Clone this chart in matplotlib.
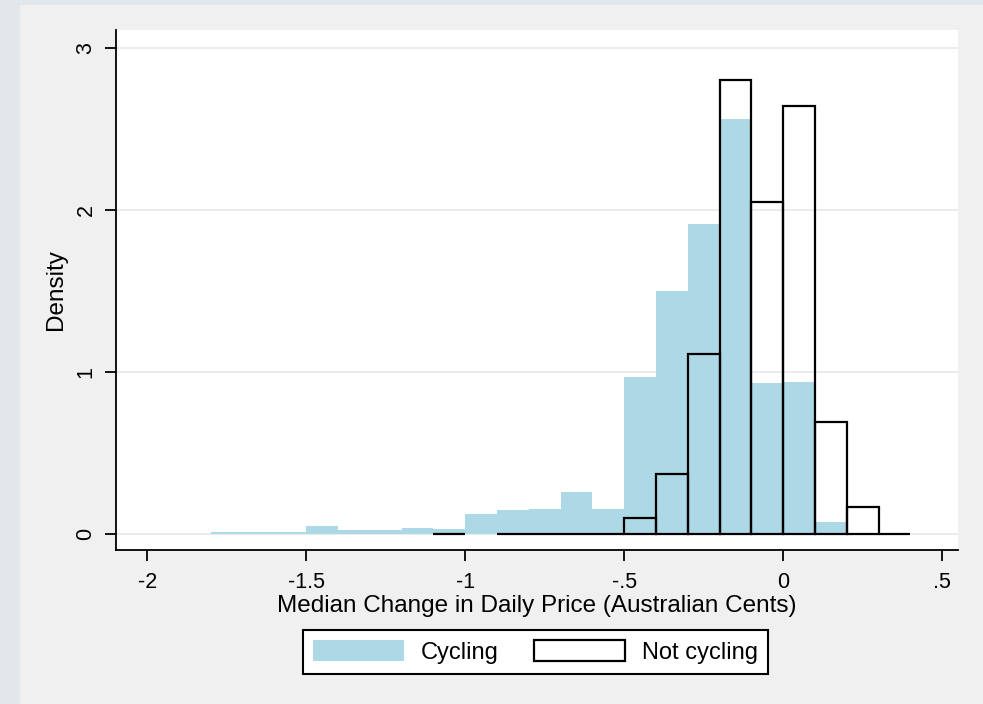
import numpy as np
import matplotlib.pyplot as plt
from matplotlib.patches import Rectangle

# histogram bins (left edge, width 0.1) and densities
cyc_left = [-1.8, -1.7, -1.6, -1.5, -1.4, -1.3, -1.2, -1.1, -1.0, -0.9,
            -0.8, -0.7, -0.6, -0.5, -0.4, -0.3, -0.2, -0.1, 0.0, 0.1]
cyc_dens = [0.012, 0.012, 0.012, 0.05, 0.025, 0.025, 0.037, 0.027, 0.12, 0.145,
            0.155, 0.255, 0.155, 0.97, 1.50, 1.91, 2.56, 0.93, 0.94, 0.07]

ncyc_left = [-1.1, -0.9, -0.8, -0.7, -0.6, -0.5, -0.4, -0.3, -0.2, -0.1,
             0.0, 0.1, 0.2, 0.3]
ncyc_dens = [0.0, 0.0, 0.0, 0.0, 0.0, 0.095, 0.37, 1.11, 2.80, 2.05,
             2.64, 0.69, 0.165, 0.0]

bin_w = 0.1
xticks = [-2, -1.5, -1, -0.5, 0, 0.5]
xticklabels = ['-2', '-1.5', '-1', '-.5', '0', '.5']
yticks = [0, 1, 2, 3]

plt.rcParams['font.family'] = ['Liberation Sans', 'DejaVu Sans']

fig = plt.figure(figsize=(9.83, 7.04), dpi=100, facecolor='#e2e7eb')
# inner panel
fig.patches.append(Rectangle((20 / 983, 0), 1, 1 - 5 / 704, transform=fig.transFigure,
                             facecolor='#f0f0f0', edgecolor='none', zorder=-10))

ax = fig.add_axes([116 / 983, 1 - 550 / 704, (958 - 116) / 983, (550 - 30) / 704])
ax.set_facecolor('white')

ax.bar(cyc_left, cyc_dens, width=bin_w, align='edge', color='#add8e6',
       edgecolor='none', label='Cycling', zorder=2)
ax.bar(ncyc_left, ncyc_dens, width=bin_w, align='edge', facecolor='none',
       edgecolor='black', linewidth=1.6, label='Not cycling', zorder=3)

ax.set_xlim(-2.098, 0.55)
ax.set_ylim(-0.1, 3.11)
ax.set_xticks(xticks)
ax.set_xticklabels(xticklabels, fontsize=15.5)
ax.set_yticks(yticks)
ax.set_yticklabels([str(v) for v in yticks], rotation=90, va='center', fontsize=15.5)
ax.tick_params(length=8, width=1.3, color='black')
ax.tick_params(axis='x', pad=8)
ax.tick_params(axis='y', pad=6)
ax.grid(axis='y', color='#e8e8e8', linewidth=1.2, zorder=0)
ax.set_axisbelow(True)

for s in ['top', 'right']:
    ax.spines[s].set_visible(False)
for s in ['left', 'bottom']:
    ax.spines[s].set_linewidth(1.3)

ax.set_xlabel('Median Change in Daily Price (Australian Cents)', fontsize=17.5,
              labelpad=1)
ax.set_ylabel('Density', fontsize=17.5, labelpad=6)

leg = fig.legend(loc='center', bbox_to_anchor=(535.5 / 983, 1 - 652 / 704), ncol=2,
                 fontsize=17, frameon=True, fancybox=False, edgecolor='black',
                 facecolor='white', framealpha=1,
                 handlelength=3.85, handleheight=1.0, handletextpad=0.7,
                 columnspacing=1.5, borderpad=0.45, borderaxespad=0)
leg.get_frame().set_linewidth(1.5)

fig.savefig('out.png', dpi=100, facecolor=fig.get_facecolor())
